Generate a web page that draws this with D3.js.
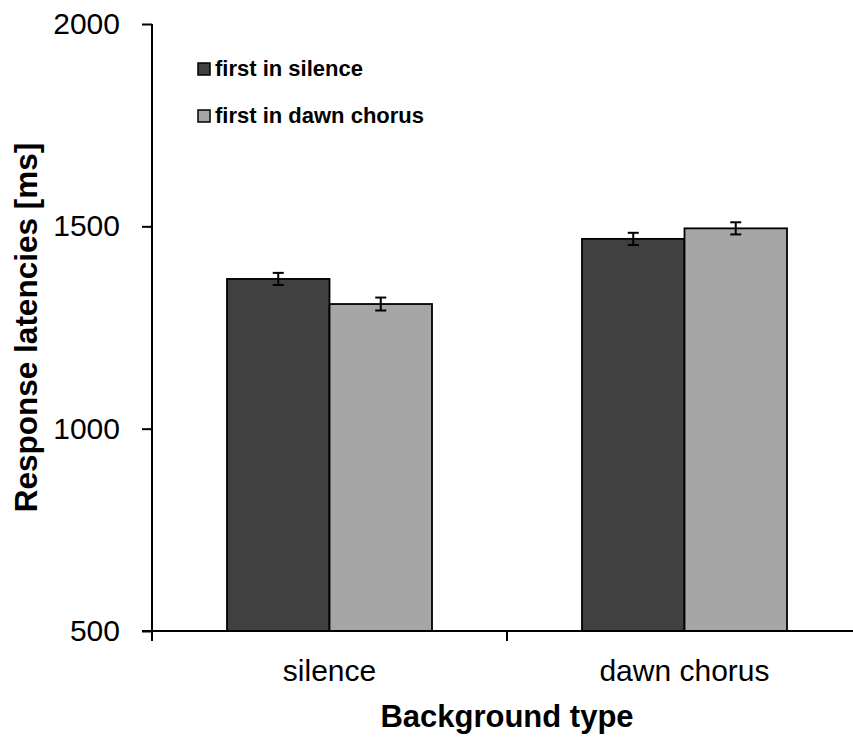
<!DOCTYPE html>
<html>
<head>
<meta charset="utf-8">
<script src="https://cdn.jsdelivr.net/npm/d3@7"></script>
<style>
  html, body { margin: 0; padding: 0; background: #fff; }
  svg { display: block; font-family: "Liberation Sans", Arial, sans-serif; }
</style>
</head>
<body>
<svg id="chart" width="853" height="740"></svg>
<script>
// ---- data ----
const categories = ["silence", "dawn chorus"];
const seriesNames = ["first in silence", "first in dawn chorus"];
const firstInSilence = [1370, 1469];
const firstInDawnChorus = [1308, 1495];
const errSilence = [15, 15];
const errDawnChorus = [16, 15];
const yTicks = [500, 1000, 1500, 2000];
const colors = ["#404040", "#a6a6a6"];

(function () {
const seriesValues = [firstInSilence, firstInDawnChorus];
const seriesErrors = [errSilence, errDawnChorus];

const svg = d3.select("#chart");
const mLeft = 152, mRight = 862, mTop = 24, mBottom = 631;

const y = d3.scaleLinear().domain([500, 2000]).range([mBottom, mTop]);
const x0 = d3.scaleBand().domain(categories).range([mLeft, mRight]).paddingInner(0).paddingOuter(0);
const groupW = 205;
const x1 = d3.scaleBand().domain(seriesNames)
  .range([(x0.bandwidth() - groupW) / 2, (x0.bandwidth() + groupW) / 2]);

// bars
const rows = [];
categories.forEach((c, ci) => {
  seriesNames.forEach((s, si) => {
    rows.push({ c, s, si, v: seriesValues[si][ci], e: seriesErrors[si][ci] });
  });
});

svg.append("g").selectAll("rect").data(rows).join("rect")
  .attr("x", d => x0(d.c) + x1(d.s))
  .attr("y", d => y(d.v))
  .attr("width", x1.bandwidth())
  .attr("height", d => y(500) - y(d.v))
  .attr("fill", d => colors[d.si])
  .attr("stroke", "#000")
  .attr("stroke-width", 1.8);

// error bars
const eg = svg.append("g").attr("stroke", "#000").attr("stroke-width", 2);
rows.forEach(d => {
  const cx = x0(d.c) + x1(d.s) + x1.bandwidth() / 2;
  eg.append("line").attr("x1", cx).attr("x2", cx).attr("y1", y(d.v + d.e)).attr("y2", y(d.v - d.e));
  eg.append("line").attr("x1", cx - 5.5).attr("x2", cx + 5.5).attr("y1", y(d.v + d.e)).attr("y2", y(d.v + d.e));
  eg.append("line").attr("x1", cx - 5.5).attr("x2", cx + 5.5).attr("y1", y(d.v - d.e)).attr("y2", y(d.v - d.e));
});

// y axis
const yAxis = svg.append("g").attr("transform", `translate(${mLeft},0)`)
  .call(d3.axisLeft(y).tickValues(yTicks).tickSize(10).tickPadding(22).tickFormat(d3.format("d")));
yAxis.select(".domain").attr("d", `M0,${mTop}V${mBottom + 10}`).attr("stroke", "#000").attr("stroke-width", 2);
yAxis.selectAll(".tick line").attr("stroke", "#000").attr("stroke-width", 2);
yAxis.selectAll("text").attr("font-size", 30).attr("fill", "#000")
  .attr("font-family", "Liberation Sans, Arial, sans-serif");

// x axis (category boundaries as ticks)
const xAxisG = svg.append("g").attr("transform", `translate(0,${mBottom})`);
xAxisG.append("line").attr("x1", mLeft - 10).attr("x2", mRight).attr("y1", 0).attr("y2", 0)
  .attr("stroke", "#000").attr("stroke-width", 2);
const boundaries = categories.map(c => x0(c)).concat([mRight]);
xAxisG.selectAll("line.tk").data(boundaries).join("line").attr("class", "tk")
  .attr("x1", d => d).attr("x2", d => d).attr("y1", 0).attr("y2", 10)
  .attr("stroke", "#000").attr("stroke-width", 2);
xAxisG.selectAll("text").data(categories).join("text")
  .attr("x", d => x0(d) + x0.bandwidth() / 2)
  .attr("y", 50)
  .attr("text-anchor", "middle")
  .attr("font-size", 30)
  .attr("fill", "#000")
  .text(d => d);

// axis titles
svg.append("text")
  .attr("x", (mLeft + mRight) / 2).attr("y", 727)
  .attr("text-anchor", "middle").attr("font-size", 31).attr("font-weight", "bold")
  .text("Background type");
svg.append("text")
  .attr("transform", `translate(37,${(mTop + mBottom) / 2}) rotate(-90)`)
  .attr("text-anchor", "middle").attr("font-size", 31.5).attr("font-weight", "bold")
  .text("Response latencies [ms]");

// legend
const lg = svg.append("g").attr("transform", "translate(198,63)");
seriesNames.forEach((s, i) => {
  const g = lg.append("g").attr("transform", `translate(0,${i * 47})`);
  g.append("rect").attr("x", 0).attr("y", 0).attr("width", 12).attr("height", 12)
    .attr("fill", colors[i]).attr("stroke", "#000").attr("stroke-width", 1.5);
  g.append("text").attr("x", 17).attr("y", 13).attr("font-size", 22).attr("font-weight", "bold").text(s);
});
})();
</script>
</body>
</html>
